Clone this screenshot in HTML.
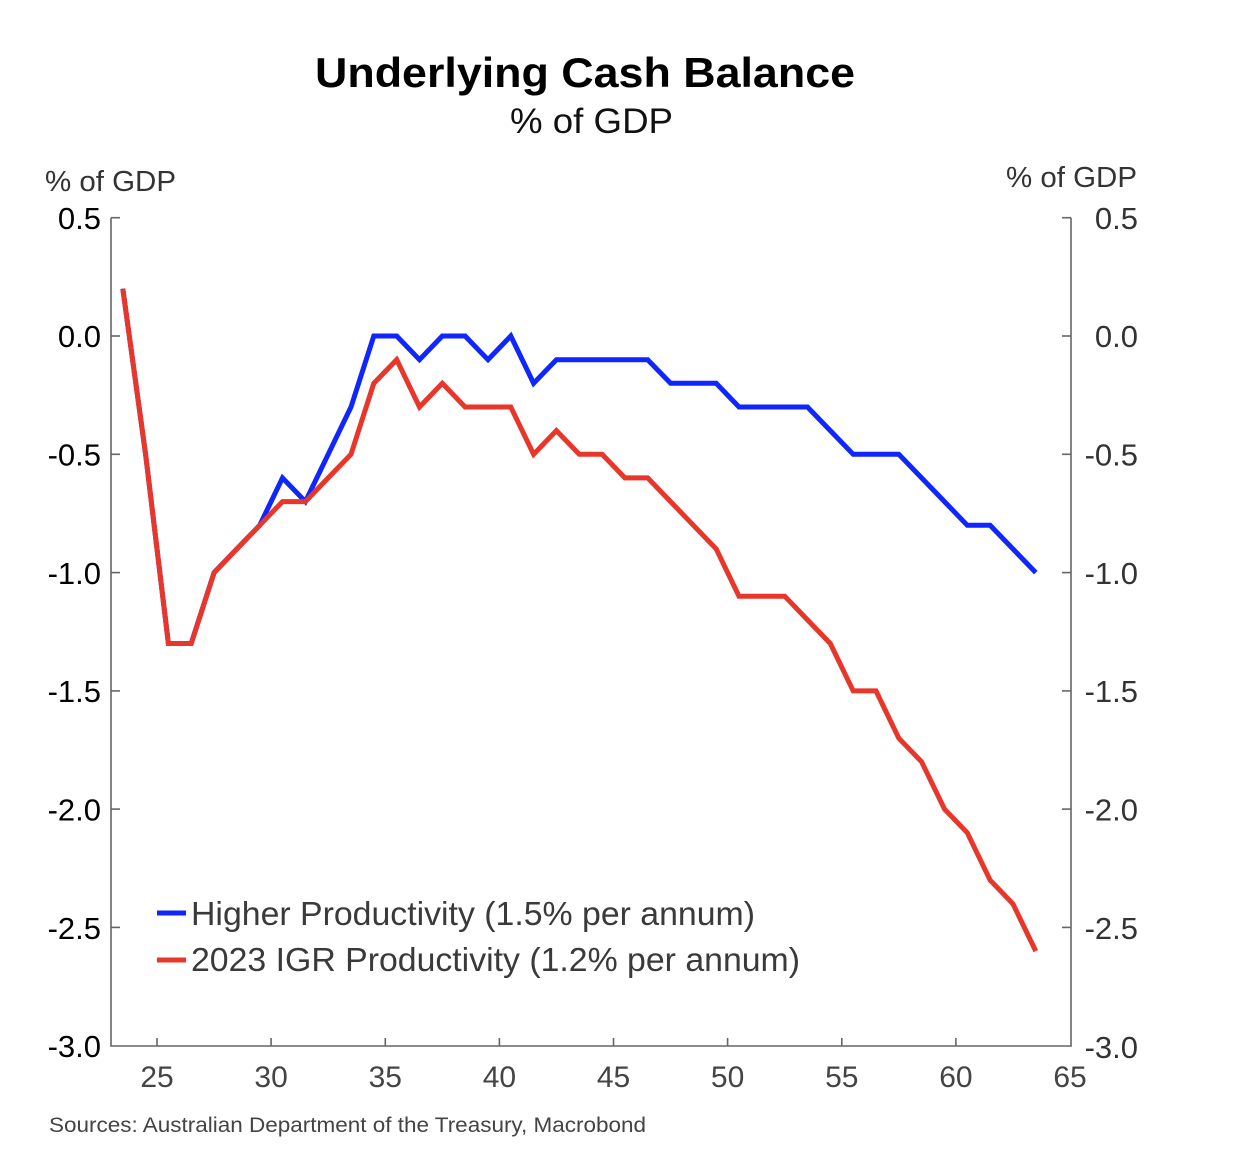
<!DOCTYPE html>
<html>
<head>
<meta charset="utf-8">
<style>
  html, body { margin: 0; padding: 0; background: #ffffff; }
  body { width: 1234px; height: 1152px; overflow: hidden; }
  svg { display: block; font-family: "Liberation Sans", Arial, sans-serif; }
</style>
</head>
<body>
<svg width="1234" height="1152" viewBox="0 0 1234 1152" xmlns="http://www.w3.org/2000/svg">
  <rect x="0" y="0" width="1234" height="1152" fill="#ffffff"/>

  <!-- Title -->
  <text x="315" y="87" font-size="42" font-weight="bold" fill="#000" textLength="540" lengthAdjust="spacingAndGlyphs">Underlying Cash Balance</text>
  <text x="510" y="133" font-size="35" fill="#111" textLength="163" lengthAdjust="spacingAndGlyphs">% of GDP</text>

  <!-- Axis unit labels -->
  <text x="45" y="191" font-size="29" fill="#333" textLength="131" lengthAdjust="spacingAndGlyphs">% of GDP</text>
  <text x="1006" y="187" font-size="29" fill="#333" textLength="131" lengthAdjust="spacingAndGlyphs">% of GDP</text>

  <!-- Axes -->
  <g stroke="#666" stroke-width="1.6" fill="none">
    <line x1="111" y1="217.7" x2="111" y2="1046.5"/>
    <line x1="1071" y1="217.7" x2="1071" y2="1046.5"/>
    <line x1="110.2" y1="1046" x2="1071.8" y2="1046"/>
    <!-- left ticks -->
    <line x1="111" y1="217.7" x2="120" y2="217.7"/>
    <line x1="111" y1="336" x2="120" y2="336"/>
    <line x1="111" y1="454.3" x2="120" y2="454.3"/>
    <line x1="111" y1="572.6" x2="120" y2="572.6"/>
    <line x1="111" y1="690.9" x2="120" y2="690.9"/>
    <line x1="111" y1="809.1" x2="120" y2="809.1"/>
    <line x1="111" y1="927.4" x2="120" y2="927.4"/>
    <!-- right ticks -->
    <line x1="1062" y1="217.7" x2="1071" y2="217.7"/>
    <line x1="1062" y1="336" x2="1071" y2="336"/>
    <line x1="1062" y1="454.3" x2="1071" y2="454.3"/>
    <line x1="1062" y1="572.6" x2="1071" y2="572.6"/>
    <line x1="1062" y1="690.9" x2="1071" y2="690.9"/>
    <line x1="1062" y1="809.1" x2="1071" y2="809.1"/>
    <line x1="1062" y1="927.4" x2="1071" y2="927.4"/>
    <!-- x ticks -->
    <line x1="157" y1="1038" x2="157" y2="1046"/>
    <line x1="271.1" y1="1038" x2="271.1" y2="1046"/>
    <line x1="385.3" y1="1038" x2="385.3" y2="1046"/>
    <line x1="499.4" y1="1038" x2="499.4" y2="1046"/>
    <line x1="613.5" y1="1038" x2="613.5" y2="1046"/>
    <line x1="727.6" y1="1038" x2="727.6" y2="1046"/>
    <line x1="841.8" y1="1038" x2="841.8" y2="1046"/>
    <line x1="955.9" y1="1038" x2="955.9" y2="1046"/>
  </g>

  <!-- Left tick labels -->
  <g font-size="31" fill="#000" text-anchor="end">
    <text x="101" y="229">0.5</text>
    <text x="101" y="347">0.0</text>
    <text x="101" y="465.5">-0.5</text>
    <text x="101" y="584">-1.0</text>
    <text x="101" y="702">-1.5</text>
    <text x="101" y="820.5">-2.0</text>
    <text x="101" y="939">-2.5</text>
    <text x="101" y="1057">-3.0</text>
  </g>

  <!-- Right tick labels -->
  <g font-size="31" fill="#333" text-anchor="end">
    <text x="1138" y="229">0.5</text>
    <text x="1138" y="347">0.0</text>
    <text x="1138" y="465.5">-0.5</text>
    <text x="1138" y="584">-1.0</text>
    <text x="1138" y="702">-1.5</text>
    <text x="1138" y="820.5">-2.0</text>
    <text x="1138" y="939">-2.5</text>
    <text x="1138" y="1058">-3.0</text>
  </g>

  <!-- X tick labels -->
  <g font-size="30" fill="#444" text-anchor="middle">
    <text x="157" y="1087">25</text>
    <text x="271.1" y="1087">30</text>
    <text x="385.3" y="1087">35</text>
    <text x="499.4" y="1087">40</text>
    <text x="613.5" y="1087">45</text>
    <text x="727.6" y="1087">50</text>
    <text x="841.8" y="1087">55</text>
    <text x="955.9" y="1087">60</text>
    <text x="1070" y="1087">65</text>
  </g>

  <!-- Series: Higher Productivity (blue) -->
  <polyline fill="none" stroke="#0f26ff" stroke-width="5" stroke-linejoin="miter" stroke-miterlimit="4" stroke-linecap="butt"
    points="122.8,288.7 145.6,454.3 168.4,643.5 191.2,643.5 214.1,572.6 236.9,548.9 259.7,525.3 282.5,477.9 305.4,501.6 328.2,454.3 351.0,407.0 373.8,336 396.7,336 419.5,359.7 442.3,336 465.1,336 488.0,359.7 510.8,336 533.6,383.3 556.4,359.7 579.3,359.7 602.1,359.7 624.9,359.7 647.7,359.7 670.6,383.3 693.4,383.3 716.2,383.3 739.0,407.0 761.9,407.0 784.7,407.0 807.5,407.0 830.3,430.6 853.2,454.3 876.0,454.3 898.8,454.3 921.6,477.9 944.5,501.6 967.3,525.3 990.1,525.3 1012.9,548.9 1035.8,572.6"/>

  <!-- Series: 2023 IGR Productivity (red) -->
  <polyline fill="none" stroke="#e8362a" stroke-width="5" stroke-linejoin="miter" stroke-miterlimit="4" stroke-linecap="butt"
    points="122.8,288.7 145.6,454.3 168.4,643.5 191.2,643.5 214.1,572.6 236.9,548.9 259.7,525.3 282.5,501.6 305.4,501.6 328.2,477.9 351.0,454.3 373.8,383.3 396.7,359.7 419.5,407.0 442.3,383.3 465.1,407.0 488.0,407.0 510.8,407.0 533.6,454.3 556.4,430.6 579.3,454.3 602.1,454.3 624.9,477.9 647.7,477.9 670.6,501.6 693.4,525.3 716.2,548.9 739.0,596.2 761.9,596.2 784.7,596.2 807.5,619.9 830.3,643.5 853.2,690.9 876.0,690.9 898.8,738.2 921.6,761.8 944.5,809.1 967.3,832.8 990.1,880.1 1012.9,903.8 1035.8,951.1"/>

  <!-- Legend -->
  <line x1="157" y1="913" x2="186" y2="913" stroke="#0f26ff" stroke-width="5"/>
  <text x="191" y="925" font-size="33" fill="#3a3a3a" textLength="564" lengthAdjust="spacingAndGlyphs">Higher Productivity (1.5% per annum)</text>
  <line x1="157" y1="960" x2="186" y2="960" stroke="#e8362a" stroke-width="5"/>
  <text x="191" y="971" font-size="33" fill="#3a3a3a" textLength="609" lengthAdjust="spacingAndGlyphs">2023 IGR Productivity (1.2% per annum)</text>

  <!-- Source -->
  <text x="49" y="1132" font-size="21" fill="#444" textLength="597" lengthAdjust="spacingAndGlyphs">Sources: Australian Department of the Treasury, Macrobond</text>
</svg>
</body>
</html>
